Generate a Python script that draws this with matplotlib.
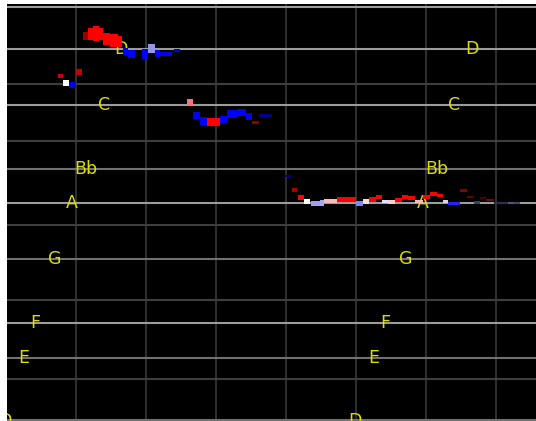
import numpy as np
import matplotlib
matplotlib.use("Agg")
import matplotlib.pyplot as plt

# pitch grid rows (y grows downward) and how strong each line is drawn
line_rows = [7, 49, 84, 105, 141, 169, 203, 225, 259, 300, 323, 358, 379, 420]
line_rank = ["hi", "hi", "lo", "hi", "lo", "mid", "hi", "lo", "mid", "lo", "hi", "mid", "lo", "mid"]

# beat lines, in frames
beat_frames = [70, 140, 210, 280, 350, 420, 490]

# note names, two passes of the scale
note_names = ["D", "C", "Bb", "A", "G", "F", "E", "D"]
note_rows = [49, 105, 169, 203, 259, 323, 358, 421]
note_frames_1 = [115, 98, 80, 66, 49, 29, 18, -1]
note_frames_2 = [466, 448, 431, 417, 400, 379, 368, 349]

# pitch track blocks: frame start, frame end, row centre, thickness, tone (-1 blue .. 1 red), level
seg_start = [77, 82, 87, 93, 97, 104, 112,
             117, 122, 136, 142, 149, 154, 168,
             52, 57, 63, 70,
             181, 187, 194, 201, 214, 221, 231, 240, 246, 253,
             279, 286, 292, 298, 305, 314, 318, 331, 350, 357, 363, 370, 376, 382,
             389, 396, 402, 409, 417, 424, 431, 437, 442, 454, 461, 468, 474, 480,
             488, 502, 508]
seg_end = [82, 87, 93, 97, 104, 112, 116,
           122, 129, 142, 149, 154, 166, 174,
           57, 63, 70, 76,
           187, 194, 201, 214, 221, 231, 240, 246, 253, 266,
           285, 291, 298, 304, 314, 318, 331, 350, 357, 363, 370, 376, 382, 389,
           396, 402, 409, 417, 424, 431, 437, 442, 454, 461, 468, 474, 480, 488,
           502, 508, 514]
seg_row = [36, 34, 33, 34, 39, 40, 41,
           51, 53.5, 54, 48.5, 53.5, 53.5, 50.5,
           76, 82.5, 85, 72,
           102, 115, 121, 122, 119.5, 114, 112.5, 116.5, 122, 115.5,
           176, 190, 198, 201.5, 204, 203, 201.5, 199.5, 204, 202, 199.5, 197.5, 201.5, 202,
           200, 197.5, 198.5, 201.5, 197, 194, 195.5, 202, 204, 191, 197, 202.5, 198, 200,
           203.5, 203, 203]
seg_thick = [8, 12, 15, 12, 12, 13, 11,
             7, 8, 10, 9, 7, 4, 3,
             4, 6, 6, 6,
             6, 7, 8, 8, 7, 8, 7, 7, 3, 3,
             2, 4, 5, 5, 5, 6, 4, 5, 5, 5, 5, 4, 3, 4,
             4, 4, 4, 3, 4, 4, 3, 3, 3, 3, 2, 3, 2, 2,
             2, 2, 2]
seg_tone = [1, 1, 1, 1, 1, 1, 1,
            -1, -1, -1, -0.35, -1, -1, -1,
            1, 0, -1, 1,
            0.5, -1, -1, 1, -1, -1, -1, -1, 1, -1,
            -1, 1, 1, 0, -0.35, -0.3, 0.25, 1, -0.45, 0.12, 1, 1, -0.1, 0.18,
            1, 1, 1, 0.25, 1, 1, 1, 0, -0.85, 1, 1, -0.4, 1, 0.8,
            -0.4, -0.35, -0.2]
seg_level = [0.6, 1, 1, 1, 1, 1, 1,
             1, 1, 1, 0.9, 1, 1, 0.8,
             0.8, 1, 0.95, 0.75,
             0.95, 1, 1, 1, 1, 1, 1, 1, 0.55, 0.55,
             0.55, 0.65, 1, 1, 0.95, 0.95, 0.98, 1, 0.95, 0.98, 1, 1, 0.98, 0.98,
             1, 1, 1, 0.98, 1, 1, 1, 0.85, 0.95, 0.55, 0.4, 0.4, 0.3, 0.35,
             0.3, 0.5, 0.35]


def tone_color(tone, level):
    rgb = np.array(plt.get_cmap("bwr")((tone + 1) / 2)[:3])
    return tuple(rgb * level)


def draw_grid(ax):
    rank_color = {"hi": "#9c9c9c", "mid": "#717171", "lo": "#3e3e3e"}
    for frame in beat_frames:
        ax.axvline(frame, color="#2e2e2e", lw=1.5, zorder=1)
    for row, rank in zip(line_rows, line_rank):
        ax.axhline(row, color=rank_color[rank], lw=1.5, zorder=2)


def draw_notes(ax):
    for frames in (note_frames_1, note_frames_2):
        for name, row, frame in zip(note_names, note_rows, frames):
            ax.text(frame, row, name, color="#dede00", fontsize=12.5,
                    family=["Liberation Sans Narrow", "DejaVu Sans"],
                    ha="center", va="center", zorder=3, clip_on=True)


def draw_track(ax):
    colors = [tone_color(t, l) for t, l in zip(seg_tone, seg_level)]
    widths = np.array(seg_end) - np.array(seg_start)
    bottoms = np.array(seg_row) - np.array(seg_thick) / 2
    ax.bar(seg_start, seg_thick, width=widths, bottom=bottoms, align="edge",
           color=colors, linewidth=0, zorder=4)


fig = plt.figure(figsize=(5.36, 4.21), dpi=100, facecolor="white")
ax = fig.add_axes([7 / 536, 0, 529 / 536, 417 / 421])
ax.set_facecolor("black")
ax.set_xlim(1, 530)
ax.set_ylim(421, 4)
ax.set_xticks([])
ax.set_yticks([])
for spine in ax.spines.values():
    spine.set_visible(False)

draw_grid(ax)
draw_notes(ax)
draw_track(ax)

fig.savefig("out.png", dpi=100, facecolor="white")
